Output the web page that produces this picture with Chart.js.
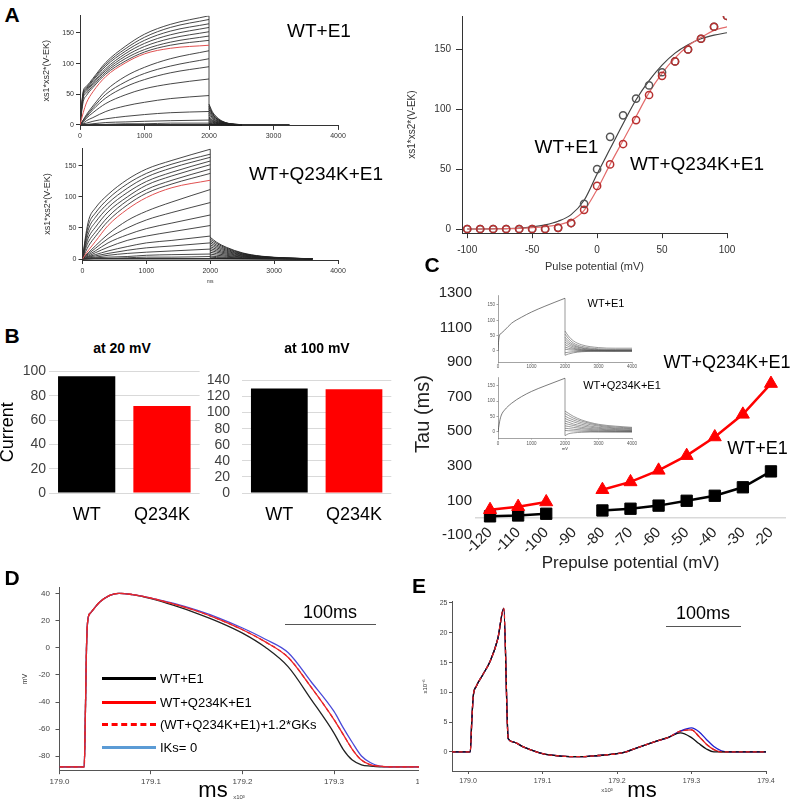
<!DOCTYPE html>
<html>
<head>
<meta charset="utf-8">
<script src="https://cdn.jsdelivr.net/npm/chart.js@4.4.1/dist/chart.umd.min.js"></script>
<style>
html, body { margin: 0; padding: 0; background: #fff; }
body { position: relative; width: 796px; height: 802px; overflow: hidden; font-family: "Liberation Sans", Arial, sans-serif; }
canvas { position: absolute; }
.t { position: absolute; white-space: nowrap; line-height: 1; transform: translate(-50%, -50%); color: #000; }
.rule { position: absolute; height: 0; }
</style>
</head>
<body>
<script>
'use strict';

// DATA
// ====

// A: simulated currents, activation part (ms) and tails after 2000 ms
var riseT = [0, 50, 100, 200, 400, 700, 1000, 1400, 2000];
var wtRise = [
    [0, 55, 63, 76, 102, 128, 148, 164, 178],
    [0, 53, 61, 74, 99, 124, 143, 159, 172],
    [0, 51, 59, 72, 96, 120, 138, 153, 165],
    [0, 49, 57, 69, 92, 116, 133, 147, 159],
    [0, 47, 55, 67, 89, 112, 128, 141, 152],
    [0, 44, 52, 64, 86, 108, 123, 135, 145],
    [0, 38, 48, 61, 83, 104, 119, 130, 138],
    [0, 20, 36, 54, 79, 101, 116, 125, 130],
    [0, 8, 17, 31, 56, 79, 94, 108, 121],
    [0, 8, 15, 28, 50, 70, 84, 96, 108],
    [0, 7, 13, 25, 44, 62, 74, 85, 95],
    [0, 5, 11, 20, 35, 49, 59, 67, 75],
    [0, 3, 7, 12, 22, 31, 37, 43, 48],
    [0, 2, 3, 6, 10, 14, 17, 20, 22],
    [0, 1, 1, 2, 4, 5, 6, 7, 8],
    [0, 0, 0, 1, 1, 2, 2, 3, 3]
];
var wtRed = 7;
var wtTailT = [2000, 2050, 2100, 2200, 2300, 2500];
var wtTail = [
    [34, 22, 15, 6.5, 2.7, 0.5],
    [31, 20, 13, 6, 2.5, 0.5],
    [28, 18.5, 12, 5.3, 2.2, 0.4],
    [25, 16.5, 11, 4.8, 2, 0.4],
    [22, 14.5, 9.5, 4.2, 1.8, 0.3],
    [19, 12.5, 8, 3.6, 1.5, 0.3],
    [16, 10.5, 7, 3, 1.3, 0.2],
    [13, 8.6, 5.6, 2.5, 1, 0.2],
    [11, 7.3, 4.7, 2.1, 0.9, 0.2],
    [9, 6, 3.9, 1.7, 0.7, 0.1],
    [7, 4.6, 3, 1.3, 0.6, 0.1],
    [5, 3.3, 2.2, 1, 0.4, 0.1],
    [3, 2, 1.3, 0.6, 0.2, 0],
    [2, 1.3, 0.9, 0.4, 0.2, 0],
    [1, 0.7, 0.4, 0.2, 0.1, 0]
];
var wtStepT = [2000, 2000];
var wtStep = [0, 178];
var wtBaseT = [0, 3250];
var wtBase = [0.5, 0.5];

var mutRise = [
    [0, 38, 64, 82, 104, 128, 145, 159, 177],
    [0, 34, 57, 74, 97, 121, 138, 153, 169],
    [0, 30, 50, 67, 90, 114, 132, 147, 164],
    [0, 25, 43, 59, 83, 107, 125, 140, 158],
    [0, 21, 36, 51, 76, 100, 119, 134, 152],
    [0, 17, 29, 43, 68, 94, 112, 127, 145],
    [0, 12, 22, 36, 61, 87, 106, 121, 138],
    [0, 8, 15, 28, 54, 80, 99, 115, 127],
    [0, 6, 11, 21, 40, 62, 77, 92, 112],
    [0, 5, 9, 17, 33, 50, 63, 75, 91],
    [0, 4, 7, 13, 26, 39, 49, 58, 71],
    [0, 3, 5, 10, 19, 30, 37, 44, 54],
    [0, 2, 4, 7, 13, 20, 26, 30, 37],
    [0, 1, 3, 5, 9, 14, 18, 21, 26],
    [0, 1, 2, 3, 6, 9, 11, 13, 16],
    [0, 0, 1, 2, 3, 4, 6, 7, 8],
    [0, 0, 0, 1, 1, 2, 3, 3, 4]
];
var mutRed = 7;
var mutTailT = [2000, 2100, 2250, 2500, 2800, 3200, 3600];
var mutTail = [
    [35, 27, 19, 10, 4.5, 1.8, 0.4],
    [32, 25, 17.6, 9.3, 4.2, 1.6, 0.3],
    [29, 22.6, 16, 8.4, 3.8, 1.5, 0.3],
    [26, 20.3, 14.3, 7.5, 3.4, 1.3, 0.3],
    [23, 18, 12.7, 6.7, 3, 1.2, 0.2],
    [20, 15.6, 11, 5.8, 2.6, 1, 0.2],
    [17, 13.3, 9.4, 4.9, 2.2, 0.9, 0.2],
    [14, 11, 7.7, 4.1, 1.8, 0.7, 0.1],
    [11, 8.6, 6, 3.2, 1.4, 0.6, 0.1],
    [8, 6.2, 4.4, 2.3, 1, 0.4, 0.1],
    [5, 3.9, 2.8, 1.5, 0.7, 0.3, 0],
    [3, 2.3, 1.7, 0.9, 0.4, 0.2, 0],
    [1, 0.8, 0.6, 0.3, 0.1, 0, 0]
];
var mutStepT = [2000, 2000];
var mutStep = [0, 177];
var mutBaseT = [0, 3400];
var mutBase = [0.5, 0.5];

var msTicks = [0, 1000, 2000, 3000, 4000];
var aTicksY = [0, 50, 100, 150];

// A right: steady state activation
var ssV = [-100, -90, -80, -70, -60, -50, -40, -30, -20, -10, 0, 10, 20, 30, 40, 50, 60, 70, 80, 90, 100];
var ssWT = [0, 0, 0, 0, 0, 0, 0, 1, 5, 21, 50, 77, 95, 109, 120, 131, 140, 150, 159, 169, 178];
var ssMut = [0, 0, 0, 0, 0, 0, 0, 1, 5, 16, 36, 54, 71, 91, 112, 128, 140, 150, 159, 169, 178];
var fitWT = [0, 0, 0.2, 0.4, 0.8, 1.8, 3.5, 6.5, 12, 24, 46, 67, 88, 108, 124, 137, 147, 154, 159, 162, 164];
var fitMut = [0, 0, 0.1, 0.3, 0.6, 1.2, 2, 3.5, 7, 15.5, 33, 54, 74, 94, 114, 130, 143, 153, 160, 166, 169];
var ssTicksX = [-100, -50, 0, 50, 100];

// B: current
var bCats = ['WT', 'Q234K'];
var cur20 = [96, 71.5];
var cur100 = [130, 129];
var b20Ticks = [0, 20, 40, 60, 80, 100];
var b100Ticks = [0, 20, 40, 60, 80, 100, 120, 140];

// C: deactivation tau
var preV = ['-120', '-110', '-100', '-90', '-80', '-70', '-60', '-50', '-40', '-30', '-20'];
var tauWT = [8, 13, 23, null, 42, 52, 70, 98, 127, 176, 268];
var tauMut = [46, 64, 91, null, 162, 207, 274, 359, 467, 598, 776];
var tauTicks = [-100, 100, 300, 500, 700, 900, 1100, 1300];

// C insets
var inT = [0, 20, 50, 100, 200, 400, 700, 1000, 1400, 2000];
var inTopRise = [0, 35, 52, 58, 68, 90, 110, 127, 146, 172];
var inBotRise = [0, 15, 35, 55, 72, 93, 115, 132, 150, 175];
var inTailT = [2000, 2100, 2250, 2500, 3000, 3500, 4000];
var inTopTail = [
    [65, 49, 33, 20, 11, 9, 9],
    [55, 41, 26, 15, 7, 5, 5],
    [45, 33, 21, 11, 4.5, 3, 3],
    [37, 27, 17, 9, 3, 2, 2],
    [29, 21, 13, 6, 2, 1, 1],
    [21, 15, 9, 4, 1, 0.5, 0.5],
    [13, 9, 6, 2.5, 0.5, 0, 0],
    [6, 4, 2.5, 1, 0, 0, 0],
    [-6, -4, -2.5, -1, 0, 0, 0],
    [-14, -10, -6, -2.5, -0.5, 0, 0]
];
var inBotTail = [
    [68, 61, 51, 39, 25, 19, 15],
    [60, 54, 45, 35, 22, 16, 13],
    [52, 46, 39, 30, 19, 13, 11],
    [44, 39, 33, 25, 15, 11, 8],
    [36, 32, 26, 20, 12, 8, 6],
    [28, 25, 21, 15, 9, 6, 4.5],
    [20, 18, 15, 11, 6, 4, 3],
    [12, 11, 9, 6.5, 3.5, 2, 1.5],
    [5, 4, 3.5, 2.5, 1, 0.5, 0.3],
    [-12, -6, -3, -1, 0, 0, 0]
];
var inStepT = [2000, 2000];
var inTopStep = [-14, 172];
var inBotStep = [-12, 175];

// D: action potentials (x10^3 ms, mV)
var apT = [179.000, 179.027, 179.028, 179.0295, 179.031, 179.034, 179.044, 179.055, 179.065, 179.08, 179.1,
    179.125, 179.15, 179.175, 179.2, 179.225, 179.25, 179.275, 179.3, 179.31, 179.32, 179.33, 179.34, 179.35, 179.36, 179.4];
var apWT = [-88, -88, -60, 0, 21, 26, 34, 39, 40.5, 39.5, 36.5,
    31.5, 25.7, 19, 11, 0.5, -14, -38, -63, -75, -83, -86.5, -87.5, -88, -88, -88];
var apMut = [-88, -88, -60, 0, 21, 26, 34, 39, 40.5, 39.5, 37,
    32.5, 27.4, 21, 13.5, 4.5, -7, -29, -53, -64, -75, -83, -86.5, -87.5, -88, -88];
var apMutG = [-88, -88, -60, 0, 21, 26, 34, 39, 40.5, 39.5, 37,
    32.5, 27.4, 21, 13.5, 4.5, -7, -29, -53, -64, -75, -83, -86.5, -87.5, -88, -88];
var apNoKs = [-88, -88, -60, 0, 21, 26, 34, 39, 40.5, 39.5, 37,
    33, 28, 22, 14.8, 6.5, -3.5, -25, -47, -59, -70, -80, -85, -87.5, -88, -88];
var apTicks = [-80, -60, -40, -20, 0, 20, 40];
var timeTicks = [179.0, 179.1, 179.2, 179.3, 179.4];

// E: IKs traces (x10^-6)
var ikT = [178.978, 179.003, 179.005, 179.007, 179.011, 179.02, 179.03, 179.04, 179.048, 179.054, 179.06, 179.075,
    179.1, 179.125, 179.15, 179.175, 179.2, 179.212, 179.225, 179.25, 179.27,
    179.285, 179.3, 179.31, 179.32, 179.33, 179.34, 179.35, 179.4];
var ikWT = [0, 0, 5, 9.3, 11, 13, 15.3, 19, 24.1, 2.2, 1.7, 0.8, -0.3, -0.7, -0.8, -0.6, -0.3, 0, 0.6, 1.7, 2.5,
    3.2, 2.4, 1.4, 0.5, 0, 0, 0, 0];
var ikMut = [0, 0, 5, 9.3, 11, 13, 15.3, 19, 24.1, 2.2, 1.7, 0.8, -0.3, -0.7, -0.8, -0.6, -0.3, 0, 0.6, 1.7, 2.5,
    3.5, 3.7, 2.6, 1.3, 0.4, 0, 0, 0];
var ikMutG = [0, 0, 5, 9.3, 11, 13, 15.3, 19, 24.1, 2.2, 1.7, 0.8, -0.3, -0.7, -0.8, -0.6, -0.3, 0, 0.6, 1.7, 2.5,
    3.5, 3.7, 2.6, 1.3, 0.4, 0, 0, 0];
var ikNoKs = [0, 0, 5, 9.3, 11, 13, 15.3, 19, 24.1, 2.2, 1.7, 0.8, -0.3, -0.7, -0.8, -0.6, -0.3, 0, 0.6, 1.7, 2.5,
    3.5, 4.05, 3.4, 2.1, 0.9, 0.2, 0, 0];
var ikTicks = [0, 5, 10, 15, 20, 25];


// HELPERS
// =======
var straight = { cubicInterpolationMode: 'default', tension: 0 };
var plain = function (v) { return String(v); };

var trace = function (xs, ys, color, w, extra) {
    return Object.assign({
        data: xs.map(function (x, i) { return { x: x, y: ys[i] }; }),
        borderColor: color,
        backgroundColor: color,
        borderWidth: w,
        pointRadius: 0,
        cubicInterpolationMode: 'monotone',
        fill: false
    }, extra || {});
};

var opts = function (pad, scales) {
    return {
        animation: false,
        responsive: false,
        events: [],
        layout: { autoPadding: false, padding: pad },
        plugins: { legend: { display: false }, tooltip: { enabled: false } },
        scales: scales
    };
};

var fixedTicks = function (list) {
    return function (s) { s.ticks = list.map(function (v) { return { value: v }; }); };
};

var linAxis = function (o) {
    return {
        type: 'linear',
        min: o.min,
        max: o.max,
        afterFit: function (s) {
            if (o.w) s.width = o.w;
            if (o.h) s.height = o.h;
        },
        afterBuildTicks: fixedTicks(o.ticks),
        ticks: {
            font: { size: o.fs },
            color: o.tc || '#333',
            padding: o.pad,
            maxRotation: 0,
            autoSkip: false,
            callback: o.fmt || plain
        },
        grid: { drawOnChartArea: false, tickLength: o.tl, color: o.gc || '#333', lineWidth: o.lw || 1 },
        border: { color: o.gc || '#333', width: o.lw || 1 },
        title: o.title ? { display: true, text: o.title, font: { size: o.tfs }, color: '#333', padding: o.tpad } : { display: false }
    };
};

var whiteBg = {
    id: 'whiteBg',
    beforeDraw: function (ch) {
        var c = ch.ctx;
        c.save();
        c.fillStyle = '#fff';
        c.fillRect(0, 0, ch.width, ch.height);
        c.restore();
    }
};

var place = function (left, top, w, h, cfg) {
    var c = document.createElement('canvas');
    c.width = w;
    c.height = h;
    c.style.left = left + 'px';
    c.style.top = top + 'px';
    c.style.width = w + 'px';
    c.style.height = h + 'px';
    document.body.appendChild(c);
    return new Chart(c, cfg);
};

var txt = function (s, cx, cy, size, extra) {
    var d = document.createElement('div');
    d.className = 't';
    d.textContent = s;
    d.style.left = cx + 'px';
    d.style.top = cy + 'px';
    d.style.fontSize = size + 'px';
    if (extra) Object.assign(d.style, extra);
    document.body.appendChild(d);
};

var rule = function (x1, x2, y, w, style, color) {
    var d = document.createElement('div');
    d.className = 'rule';
    d.style.left = x1 + 'px';
    d.style.width = (x2 - x1) + 'px';
    d.style.top = (y - w / 2) + 'px';
    d.style.borderTop = w + 'px ' + style + ' ' + color;
    document.body.appendChild(d);
};

var traceFamily = function (riseX, rises, red, tailX, tails, stepX, step, baseX, base) {
    var sets = [trace(riseX, rises[red], '#e05050', 1)];
    rises.forEach(function (r, i) {
        if (i !== red) sets.push(trace(riseX, r, '#333', 0.9));
    });
    tails.forEach(function (r) { sets.push(trace(tailX, r, '#222', 0.9)); });
    sets.push(trace(stepX, step, '#333', 0.9, straight));
    sets.push(trace(baseX, base, '#333', 1.5, straight));
    return sets;
};


// PANEL A
// =======
place(30, 5, 330, 145, {
    type: 'line',
    data: { datasets: traceFamily(riseT, wtRise, wtRed, wtTailT, wtTail, wtStepT, wtStep, wtBaseT, wtBase) },
    options: opts({ top: 10.8, right: 22, bottom: 0, left: 0 }, {
        x: linAxis({ min: 0, max: 4000, ticks: msTicks, h: 24.1, fs: 7, pad: 2, tl: 4 }),
        y: linAxis({ min: -1.5, max: 178, ticks: aTicksY, w: 50, fs: 7, pad: 2, tl: 4,
            title: 'xs1*xs2*(V-EK)', tfs: 9, tpad: { top: 11.6, bottom: 0 } })
    })
});

place(30, 140, 330, 150, {
    type: 'line',
    data: { datasets: traceFamily(riseT, mutRise, mutRed, mutTailT, mutTail, mutStepT, mutStep, mutBaseT, mutBase) },
    options: opts({ top: 8, right: 22, bottom: 0, left: 0 }, {
        x: linAxis({ min: 0, max: 4000, ticks: msTicks, h: 30, fs: 7, pad: 3, tl: 4,
            title: 'ms', tfs: 5, tpad: { top: 0, bottom: 5 } }),
        y: linAxis({ min: -1.6, max: 179, ticks: aTicksY, w: 52.5, fs: 7, pad: 2, tl: 4,
            title: 'xs1*xs2*(V-EK)', tfs: 9, tpad: { top: 12, bottom: 0 } })
    })
});

var hollow = { showLine: false, pointRadius: 3.6, pointBorderWidth: 1.5, pointBackgroundColor: 'rgba(0,0,0,0)' };
place(400, 5, 396, 280, {
    type: 'line',
    data: {
        datasets: [
            trace(ssV, ssMut, '#b83030', 1.5, hollow),
            trace(ssV, ssWT, '#555', 1.5, hollow),
            trace(ssV, fitMut, '#e36b6b', 1.2),
            trace(ssV, fitWT, '#444', 1.2)
        ]
    },
    options: opts({ top: 9.2, right: 69, bottom: 0, left: 0 }, {
        x: linAxis({ min: -104, max: 100, ticks: ssTicksX, h: 51.8, fs: 10, pad: 6, tl: 5,
            title: 'Pulse potential (mV)', tfs: 11, tpad: { top: 0, bottom: 11.4 } }),
        y: linAxis({ min: -3.5, max: 178, ticks: aTicksY, w: 62, fs: 10, pad: 5, tl: 6,
            title: 'xs1*xs2*(V-EK)', tfs: 10, tpad: { top: 6, bottom: 0 } })
    })
});


// PANEL B
// =======
var barPanel = function (left, width, yw, tickPad, max, ticks, vals, withTitle) {
    place(left, 360, width, 170, {
        type: 'bar',
        data: {
            labels: bCats,
            datasets: [{ data: vals, backgroundColor: ['#000000', '#ff0000'], barPercentage: 0.76, categoryPercentage: 1 }]
        },
        options: opts({ top: 9, right: 0, bottom: 0, left: 0 }, {
            x: {
                grid: { display: false, drawTicks: false },
                border: { display: false },
                ticks: { font: { size: 18 }, color: '#000', padding: 11 },
                afterFit: function (s) { s.height = 37; }
            },
            y: {
                min: 0,
                max: max,
                afterBuildTicks: fixedTicks(ticks),
                grid: { color: '#d9d9d9', drawTicks: false },
                border: { display: false },
                ticks: { font: { size: 14 }, color: '#404040', padding: tickPad, autoSkip: false, callback: plain },
                afterFit: function (s) { s.width = yw; },
                title: { display: withTitle, text: 'Current', font: { size: 18 }, color: '#000', padding: { top: 3.2, bottom: 0 } }
            }
        })
    });
};
barPanel(-6, 207, 55, 3, 100, b20Ticks, cur20, true);
barPanel(190, 203, 52, 12, 140, b100Ticks, cur100, false);


// PANEL C
// =======
place(405, 280, 391, 300, {
    type: 'line',
    data: {
        labels: preV,
        datasets: [
            { data: tauMut, borderColor: '#ff0000', backgroundColor: '#ff0000', borderWidth: 2.5,
                pointStyle: 'triangle', pointRadius: 7.5, pointBorderWidth: 1, spanGaps: false },
            { data: tauWT, borderColor: '#000', backgroundColor: '#000', borderWidth: 2.5,
                pointStyle: 'rect', pointRadius: 8, pointBorderWidth: 1, spanGaps: false }
        ]
    },
    options: opts({ top: 13, right: 11, bottom: 45, left: 0 }, {
        x: {
            position: { y: 0 },
            offset: true,
            grid: { display: false, drawTicks: false },
            border: { color: '#d9d9d9', width: 1.5 },
            ticks: { font: { size: 15 }, color: '#222', minRotation: 45, maxRotation: 45, autoSkip: false, padding: 6 },
            afterFit: function (s) { s.height = 56; },
            title: { display: true, text: 'Prepulse potential (mV)', font: { size: 17 }, color: '#222', padding: { top: 0, bottom: 0.5 } }
        },
        y: {
            min: -100,
            max: 1300,
            afterBuildTicks: fixedTicks(tauTicks),
            grid: { display: false, drawTicks: false },
            border: { display: false },
            ticks: { font: { size: 15 }, color: '#222', padding: 4, autoSkip: false, callback: plain },
            afterFit: function (s) { s.width = 71; },
            title: { display: true, text: 'Tau (ms)', font: { size: 20 }, color: '#222', padding: { top: 6, bottom: 0 } }
        }
    })
});

var insetSets = function (rise, tails, step) {
    var sets = [trace(inT, rise, '#444', 0.7)];
    tails.forEach(function (r) { sets.push(trace(inTailT, r, '#555', 0.6)); });
    sets.push(trace(inStepT, step, '#555', 0.6, straight));
    return sets;
};
place(480, 288, 160, 82, {
    type: 'line',
    data: { datasets: insetSets(inTopRise, inTopTail, inTopStep) },
    options: opts({ top: 7.8, right: 8, bottom: 0, left: 0 }, {
        x: linAxis({ min: 0, max: 4000, ticks: msTicks, h: 8, fs: 4.5, pad: 1, tl: 1.5, gc: '#666', lw: 0.6, tc: '#555' }),
        y: linAxis({ min: -36, max: 180, ticks: aTicksY, w: 18, fs: 4.5, pad: 1.5, tl: 1.5, gc: '#666', lw: 0.6, tc: '#555' })
    })
});
place(480, 370, 160, 82, {
    type: 'line',
    data: { datasets: insetSets(inBotRise, inBotTail, inBotStep) },
    options: opts({ top: 7, right: 8, bottom: 0, left: 0 }, {
        x: linAxis({ min: 0, max: 4000, ticks: msTicks, h: 14, fs: 4.5, pad: 2, tl: 1.5, gc: '#666', lw: 0.6, tc: '#555',
            title: 'mV', tfs: 4, tpad: { top: 0, bottom: 0.5 } }),
        y: linAxis({ min: -19.6, max: 179, ticks: aTicksY, w: 18, fs: 4.5, pad: 1.5, tl: 1.5, gc: '#666', lw: 0.6, tc: '#555' })
    })
});


// PANEL D
// =======
var fmt1 = function (v) { return v.toFixed(1); };
place(10, 575, 430, 227, {
    type: 'line',
    data: {
        datasets: [
            trace(apT, apMutG, '#e8262a', 1.3, { borderDash: [4, 3] }),
            trace(apT, apMut, '#e8262a', 1.3),
            trace(apT, apNoKs, '#4a4ad8', 1.3),
            trace(apT, apWT, '#222', 1.3)
        ]
    },
    options: opts({ top: 12.9, right: 14.5, bottom: 0, left: 0 }, {
        x: linAxis({ min: 179.0, max: 179.4, ticks: timeTicks, h: 31.8, fs: 8, pad: 3, tl: 4, fmt: fmt1, gc: '#555', tc: '#444' }),
        y: linAxis({ min: -90.5, max: 44.5, ticks: apTicks, w: 49.5, fs: 8, pad: 5.5, tl: 4, gc: '#555', tc: '#444',
            title: 'mV', tfs: 7, tpad: { top: 10.8, bottom: 0 } })
    })
});


// PANEL E
// =======
place(419, 575, 377, 227, {
    type: 'line',
    data: {
        datasets: [
            trace(ikT, ikMutG, '#e02020', 1.3, { borderDash: [4, 3] }),
            trace(ikT, ikWT, '#111', 1.3),
            trace(ikT, ikNoKs, '#1f1fd0', 1.3),
            trace(ikT, ikMut, '#e02020', 1.3)
        ]
    },
    options: opts({ top: 26.8, right: 30, bottom: 0, left: 0 }, {
        x: linAxis({ min: 178.9785, max: 179.4, ticks: timeTicks, h: 31, fs: 7, pad: 3, tl: 3, fmt: fmt1, gc: '#555', tc: '#444' }),
        y: linAxis({ min: -3.2, max: 25.2, ticks: ikTicks, w: 33, fs: 7, pad: 1.5, tl: 3, gc: '#555', tc: '#444',
            title: 'x10\u207B\u2076', tfs: 6, tpad: { top: 2.4, bottom: 0 } })
    }),
    plugins: [whiteBg]
});


// TEXT
// ====
var bold = { fontWeight: 'bold' };
txt('A', 12, 14, 21, bold);
txt('B', 12, 335, 21, bold);
txt('C', 432, 264, 21, bold);
txt('D', 12, 577, 21, bold);
txt('E', 419, 585, 21, bold);

txt('WT+E1', 319, 30, 19);
txt('WT+Q234K+E1', 316, 172.5, 19);
txt('WT+E1', 566.5, 145.5, 19);
txt('WT+Q234K+E1', 697, 162.5, 19);

txt('at 20 mV', 122, 348, 14, bold);
txt('at 100 mV', 317, 348, 14, bold);

txt('WT+Q234K+E1', 727, 361.5, 18);
txt('WT+E1', 757.5, 447.5, 18);
txt('WT+E1', 606, 303, 11);
txt('WT+Q234K+E1', 622, 385, 11);

txt('100ms', 330, 612, 18);
rule(285, 376, 625, 1.5, 'solid', '#555');
var legRows = [
    ['WT+E1', 678, 'solid', '#000'],
    ['WT+Q234K+E1', 702, 'solid', '#ff0000'],
    ['(WT+Q234K+E1)+1.2*GKs', 724, 'dashed', '#ff0000'],
    ['IKs= 0', 747, 'solid', '#5b9bd5']
];
legRows.forEach(function (r) {
    rule(102, 156, r[1], 3, r[2], r[3]);
    txt(r[0], 160, r[1], 13, { transform: 'translate(0,-50%)' });
});
txt('ms', 213, 790, 22);
txt('x10\u00B3', 239, 797, 6, { color: '#444' });

txt('100ms', 703, 613, 18);
rule(666, 741, 627, 1.5, 'solid', '#555');
txt('ms', 642, 790, 22);
txt('x10\u00B3', 607, 790, 6, { color: '#444' });
</script>
</body>
</html>
